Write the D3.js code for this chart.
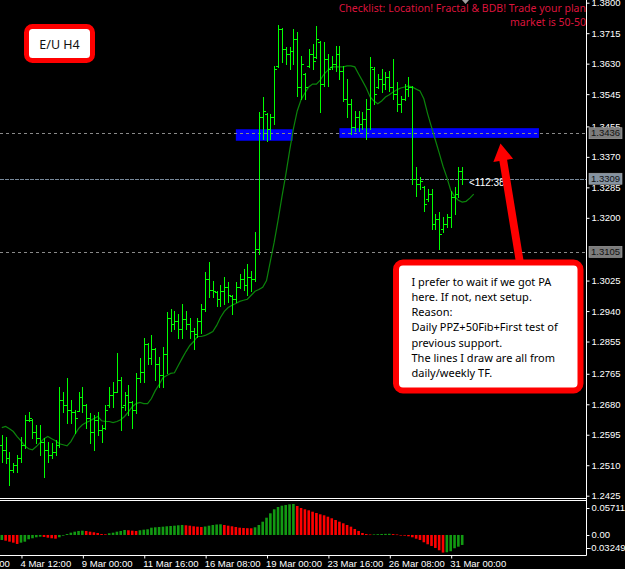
<!DOCTYPE html>
<html>
<head>
<meta charset="utf-8">
<script src="https://cdn.jsdelivr.net/npm/d3@7/dist/d3.min.js"></script>
<style>
body { margin: 0; background: #000; }
svg { display: block; }
.axis text { fill: #fff; font-family: "Liberation Sans", Arial, sans-serif; font-size: 9.5px; }
.axis line { stroke: #fff; }
.axis path { display: none; }
</style>
</head>
<body>
<div id="chart"></div>
<script>
// EURUSD H4 bars
var barOpen = [1.2567,1.2553,1.2531,1.2497,1.2511,1.2531,1.2567,1.2637,1.2637,1.2604,
  1.2587,1.2576,1.2553,1.2539,1.2548,1.2567,1.2693,1.2679,1.2665,1.2659,
  1.2662,1.2699,1.2679,1.2643,1.2604,1.2637,1.2609,1.2615,1.2679,1.2707,
  1.2715,1.2749,1.2679,1.2707,1.2687,1.2665,1.2754,1.2771,1.2847,1.2810,
  1.2833,1.2791,1.2763,1.2819,1.2922,1.2903,1.2911,1.2889,1.2917,1.2903,
  1.2883,1.2875,1.2911,1.2945,1.3028,1.3000,1.2992,1.2973,1.2995,1.3006,
  1.2981,1.2973,1.3006,1.3028,1.3014,1.3034,1.3028,1.3112,1.3481,1.3490,
  1.3448,1.3481,1.3624,1.3727,1.3671,1.3657,1.3666,1.3699,1.3565,1.3601,
  1.3624,1.3657,1.3649,1.3691,1.3573,1.3643,1.3621,1.3629,1.3657,1.3610,
  1.3532,1.3518,1.3453,1.3481,1.3462,1.3476,1.3504,1.3615,1.3565,1.3587,
  1.3573,1.3593,1.3565,1.3545,1.3518,1.3532,1.3559,1.3565,1.3308,1.3294,
  1.3286,1.3252,1.3266,1.3182,1.3196,1.3168,1.3182,1.3202,1.3258,1.3266,
  1.3330]
var barHigh = [1.2595,1.2590,1.2548,1.2517,1.2539,1.2590,1.2651,1.2659,1.2640,1.2623,
  1.2623,1.2587,1.2576,1.2573,1.2581,1.2727,1.2715,1.2754,1.2693,1.2665,
  1.2715,1.2727,1.2682,1.2657,1.2651,1.2659,1.2623,1.2679,1.2727,1.2741,
  1.2824,1.2757,1.2715,1.2735,1.2690,1.2768,1.2810,1.2866,1.2852,1.2872,
  1.2836,1.2813,1.2841,1.2936,1.2947,1.2939,1.2931,1.2959,1.2939,1.2922,
  1.2894,1.2922,1.2959,1.3048,1.3076,1.3023,1.2995,1.3014,1.3034,1.3020,
  1.2984,1.3020,1.3042,1.3056,1.3070,1.3051,1.3160,1.3495,1.3537,1.3493,
  1.3490,1.3624,1.3738,1.3730,1.3677,1.3677,1.3727,1.3719,1.3652,1.3604,
  1.3671,1.3685,1.3736,1.3694,1.3691,1.3657,1.3652,1.3680,1.3680,1.3624,
  1.3587,1.3532,1.3498,1.3498,1.3495,1.3532,1.3649,1.3621,1.3601,1.3615,
  1.3607,1.3610,1.3643,1.3579,1.3540,1.3573,1.3593,1.3568,1.3341,1.3313,
  1.3289,1.3280,1.3280,1.3210,1.3216,1.3202,1.3210,1.3274,1.3286,1.3341,
  1.3341]
var barLow = [1.2520,1.2517,1.2455,1.2492,1.2492,1.2520,1.2559,1.2632,1.2587,1.2573,
  1.2539,1.2478,1.2520,1.2531,1.2539,1.2562,1.2659,1.2629,1.2629,1.2601,
  1.2662,1.2659,1.2615,1.2573,1.2553,1.2595,1.2576,1.2612,1.2673,1.2673,
  1.2713,1.2609,1.2665,1.2651,1.2615,1.2657,1.2743,1.2743,1.2791,1.2791,
  1.2749,1.2729,1.2729,1.2768,1.2883,1.2889,1.2866,1.2866,1.2889,1.2866,
  1.2833,1.2869,1.2880,1.2939,1.2978,1.2978,1.2953,1.2953,1.2959,1.2964,
  1.2931,1.2964,1.3003,1.3000,1.2986,1.2995,1.3025,1.3098,1.3420,1.3414,
  1.3420,1.3462,1.3621,1.3635,1.3629,1.3615,1.3629,1.3540,1.3532,1.3532,
  1.3621,1.3615,1.3646,1.3495,1.3568,1.3568,1.3615,1.3610,1.3587,1.3526,
  1.3481,1.3434,1.3442,1.3442,1.3448,1.3420,1.3448,1.3518,1.3562,1.3551,
  1.3559,1.3554,1.3532,1.3498,1.3495,1.3529,1.3540,1.3294,1.3260,1.3280,
  1.3218,1.3246,1.3168,1.3168,1.3112,1.3160,1.3174,1.3174,1.3210,1.3258,
  1.3294]
var barClose = [1.2553,1.2531,1.2497,1.2511,1.2531,1.2567,1.2637,1.2643,1.2604,1.2587,
  1.2576,1.2553,1.2539,1.2548,1.2567,1.2693,1.2679,1.2665,1.2659,1.2643,
  1.2699,1.2679,1.2643,1.2604,1.2637,1.2609,1.2615,1.2665,1.2707,1.2715,
  1.2749,1.2671,1.2707,1.2687,1.2665,1.2754,1.2771,1.2847,1.2810,1.2833,
  1.2791,1.2763,1.2819,1.2922,1.2903,1.2911,1.2889,1.2917,1.2903,1.2883,
  1.2875,1.2911,1.2945,1.3028,1.3000,1.2995,1.2973,1.2995,1.3006,1.2986,
  1.2973,1.3006,1.3028,1.3014,1.3034,1.3028,1.3112,1.3481,1.3498,1.3448,
  1.3481,1.3615,1.3727,1.3671,1.3657,1.3666,1.3699,1.3565,1.3629,1.3565,
  1.3657,1.3638,1.3699,1.3573,1.3643,1.3615,1.3629,1.3657,1.3610,1.3532,
  1.3518,1.3453,1.3481,1.3462,1.3476,1.3504,1.3621,1.3545,1.3587,1.3573,
  1.3593,1.3565,1.3545,1.3518,1.3532,1.3559,1.3565,1.3308,1.3294,1.3302,
  1.3238,1.3266,1.3182,1.3196,1.3154,1.3182,1.3202,1.3258,1.3266,1.3330,
  1.3309]

// moving average, shifted 3 bars into the future
var maValues = [1.2615,1.2618,1.2612,1.2604,1.2590,1.2578,1.2564,1.2556,1.2553,1.2562,
  1.2573,1.2584,1.2590,1.2584,1.2578,1.2570,1.2567,1.2564,1.2576,1.2595,
  1.2612,1.2623,1.2629,1.2634,1.2640,1.2646,1.2634,1.2632,1.2632,1.2629,
  1.2632,1.2637,1.2646,1.2659,1.2673,1.2682,1.2685,1.2682,1.2682,1.2696,
  1.2718,1.2735,1.2754,1.2760,1.2766,1.2768,1.2788,1.2808,1.2827,1.2844,
  1.2855,1.2869,1.2869,1.2872,1.2877,1.2883,1.2900,1.2922,1.2939,1.2950,
  1.2956,1.2961,1.2967,1.2970,1.2973,1.2984,1.2995,1.3000,1.3006,1.3025,
  1.3079,1.3132,1.3193,1.3258,1.3319,1.3386,1.3448,1.3498,1.3529,1.3548,
  1.3565,1.3573,1.3573,1.3584,1.3601,1.3612,1.3621,1.3621,1.3621,1.3621,
  1.3624,1.3624,1.3621,1.3601,1.3582,1.3562,1.3537,1.3526,1.3518,1.3526,
  1.3537,1.3543,1.3551,1.3557,1.3562,1.3565,1.3568,1.3565,1.3559,1.3554,
  1.3532,1.3490,1.3453,1.3417,1.3381,1.3344,1.3313,1.3277,1.3260,1.3249,
  1.3244,1.3246,1.3255,1.3266]

// awesome oscillator style histogram (lower window)
var aoValues = [-0.00921,-0.01050,-0.01234,-0.01418,-0.01657,-0.01418,-0.01234,-0.00792,-0.00608,-0.00424,
  -0.00313,-0.00368,-0.00497,-0.00608,-0.00681,-0.00424,-0.00129,0.00184,0.00424,0.00608,
  0.00737,0.00792,0.00737,0.00608,0.00497,0.00368,0.00184,0.00129,0.00313,0.00424,
  0.00608,0.00737,0.00921,0.00866,0.00792,0.00737,0.00866,0.00976,0.01050,0.01344,
  0.01418,0.01473,0.01529,0.01602,0.01657,0.01713,0.01786,0.01842,0.01786,0.01713,
  0.01602,0.01529,0.01473,0.01565,0.01713,0.01842,0.01934,0.01971,0.01842,0.01713,
  0.01602,0.01473,0.01344,0.01289,0.01252,0.01234,0.01418,0.01842,0.02449,0.03186,
  0.03996,0.04733,0.05157,0.05396,0.05525,0.05654,0.05711,0.05341,0.04972,0.04733,
  0.04549,0.04291,0.04052,0.03812,0.03628,0.03370,0.03076,0.02762,0.02449,0.02155,
  0.01842,0.01529,0.01105,0.00737,0.00368,0.00184,0.00092,0.00110,0.00147,0.00184,
  0.00203,0.00221,0.00166,0.00092,-0.00055,-0.00129,-0.00239,-0.00424,-0.00681,-0.00921,
  -0.01344,-0.01713,-0.02026,-0.02394,-0.02818,-0.03249,-0.03186,-0.03002,-0.02449,-0.02155,
  -0.01842]

// 1.3110 sits under the 1.3105 tag, so it is left out
var priceTicks = [1.3800, 1.3715, 1.3630, 1.3545, 1.3455, 1.3370, 1.3285, 1.3200,
  1.3025, 1.2940, 1.2855, 1.2765, 1.2680, 1.2595, 1.2510, 1.2425]
var timeTicks = [-11, 5, 21, 37, 53, 69, 85, 101, 117]
var timeLabels = ['2 Mar 00:00', '4 Mar 12:00', '9 Mar 00:00', '11 Mar 16:00', '16 Mar 08:00',
  '19 Mar 00:00', '23 Mar 16:00', '26 Mar 08:00', '31 Mar 00:00']

var levelPrices = [1.3436, 1.3105]
var bidPrice = 1.3309

// blue zones (from bar, to bar, top price, bottom price)
var zoneFrom = [61, 88]
var zoneTo = [75.8, 140]
var zoneTop = [1.3447, 1.3450]
var zoneBottom = [1.3415, 1.3423]

var noteLines = ['I prefer to wait if we got PA', 'here. If not, next setup.', 'Reason:',
  'Daily PPZ+50Fib+First test of', 'previous support.', 'The lines I draw are all from',
  'daily/weekly TF.']
var checklistLines = ['Checklist: Location! Fractal & BDB! Trade your plan', 'market is 50-50']

var width = 625, height = 569
var plotRight = 586.5
var mainBottom = 498.5
var aoTop = 500.5, aoBottom = 555.5

var svg = d3.select('#chart').append('svg')
  .attr('width', width)
  .attr('height', height)
  .style('font-family', '"Liberation Sans", Arial, sans-serif')

svg.append('rect').attr('width', width).attr('height', height).attr('fill', '#000')

var defs = svg.append('defs')
defs.append('clipPath').attr('id', 'clipMain')
  .append('rect').attr('x', 0).attr('y', 0).attr('width', 586).attr('height', 498)
defs.append('clipPath').attr('id', 'clipAO')
  .append('rect').attr('x', 0).attr('y', 501).attr('width', 586).attr('height', 54)

var x = d3.scaleLinear().domain([0, barOpen.length - 1]).range([1.8, 462.2])
var y = d3.scaleLinear().domain([1.2425, 1.38]).range([495.7, 2.7])
var yAO = d3.scaleLinear().domain([d3.min(aoValues), d3.max(aoValues)]).range([552.6, 504])

function px(v) { return Math.round(v) + 0.5 }

var main = svg.append('g').attr('clip-path', 'url(#clipMain)')

// zones first, everything else is painted over them
main.selectAll('rect.zone')
  .data(zoneFrom)
  .enter().append('rect')
  .attr('class', 'zone')
  .attr('x', (d, k) => x(d))
  .attr('y', (d, k) => y(zoneTop[k]))
  .attr('width', (d, k) => x(zoneTo[k]) - x(d))
  .attr('height', (d, k) => y(zoneBottom[k]) - y(zoneTop[k]))
  .attr('fill', '#0000ff')

main.selectAll('line.level')
  .data(levelPrices)
  .enter().append('line')
  .attr('class', 'level')
  .attr('x1', 0).attr('x2', plotRight)
  .attr('y1', d => px(y(d))).attr('y2', d => px(y(d)))
  .attr('stroke', '#8a8a8a')
  .attr('stroke-dasharray', '3,3')
  .attr('shape-rendering', 'crispEdges')

main.append('line')
  .attr('x1', 0).attr('x2', plotRight)
  .attr('y1', px(y(bidPrice))).attr('y2', px(y(bidPrice)))
  .attr('stroke', '#778899')
  .attr('stroke-dasharray', '4,1')
  .attr('shape-rendering', 'crispEdges')

// moving average
var maLine = d3.line()
  .x((d, i) => x(i))
  .y(d => y(d))

main.append('path')
  .datum(maValues)
  .attr('d', maLine)
  .attr('fill', 'none')
  .attr('stroke', '#0b840b')
  .attr('stroke-width', 1.2)

// OHLC bars
main.append('g')
  .attr('shape-rendering', 'crispEdges')
  .selectAll('path')
  .data(barOpen)
  .enter().append('path')
  .attr('d', (o, i) => {
    var xc = px(x(i))
    return 'M' + xc + ',' + Math.round(y(barHigh[i])) + 'V' + (Math.round(y(barLow[i])) + 1) +
      'M' + (xc - 2.5) + ',' + px(y(o)) + 'H' + xc +
      'M' + xc + ',' + px(y(barClose[i])) + 'H' + (xc + 2.5)
  })
  .attr('fill', 'none')
  .attr('stroke', '#00ff00')
  .attr('stroke-width', 1)

// lower window histogram
var ao = svg.append('g').attr('clip-path', 'url(#clipAO)')
ao.selectAll('rect')
  .data(aoValues)
  .enter().append('rect')
  .attr('x', (d, i) => x(i) - 1.3)
  .attr('width', 2.6)
  .attr('y', d => Math.min(yAO(d), yAO(0)))
  .attr('height', d => Math.max(0.6, Math.abs(yAO(d) - yAO(0))))
  .attr('fill', (d, i) => (i === 0 || d >= aoValues[i - 1]) ? '#129a12' : '#ff0000')

// frames
var frame = svg.append('g').attr('stroke', '#fff').attr('stroke-width', 1)
frame.append('line').attr('x1', 0).attr('x2', plotRight).attr('y1', mainBottom).attr('y2', mainBottom)
frame.append('line').attr('x1', 0).attr('x2', plotRight).attr('y1', aoTop).attr('y2', aoTop)
frame.append('line').attr('x1', 0).attr('x2', plotRight).attr('y1', aoBottom).attr('y2', aoBottom)
frame.append('line').attr('x1', plotRight).attr('x2', plotRight).attr('y1', 0).attr('y2', aoBottom)

// price axis
var priceAxis = d3.axisRight(y)
  .tickValues(priceTicks)
  .tickFormat(d3.format('.4f'))
  .tickSize(3)
  .tickPadding(2)

svg.append('g')
  .attr('class', 'axis')
  .attr('transform', 'translate(' + plotRight + ',0)')
  .call(priceAxis)

// indicator axis labels, kept inside the window
var aoTicks = [d3.max(aoValues), 0, d3.min(aoValues)]
var aoAxis = svg.append('g').attr('class', 'axis')
aoTicks.forEach(function(v) {
  var ty = Math.max(508, Math.min(548, yAO(v)))
  aoAxis.append('line')
    .attr('x1', plotRight).attr('x2', plotRight + 3)
    .attr('y1', px(ty)).attr('y2', px(ty))
  aoAxis.append('text')
    .attr('x', v < 0 ? plotRight + 1.5 : plotRight + 5)
    .attr('y', ty)
    .attr('dy', '0.32em')
    .text(v === 0 ? '0.00' : d3.format('.5f')(v).replace('−', '-'))
})

// time axis
var timeAxis = d3.axisBottom(x)
  .tickValues(timeTicks)
  .tickFormat((d, i) => timeLabels[i])
  .tickSize(3)
  .tickPadding(2)

var tg = svg.append('g')
  .attr('class', 'axis')
  .attr('transform', 'translate(0,' + aoBottom + ')')
  .call(timeAxis)
tg.selectAll('text').attr('text-anchor', 'start').attr('dx', -1)
tg.selectAll('.tick line').attr('transform', 'translate(0.5,0)')

// price labels on the axis for the horizontal lines
var tags = levelPrices.concat([bidPrice])
var tag = svg.append('g')
tags.forEach(function(p, k) {
  var ty = y(p)
  tag.append('rect')
    .attr('x', 589).attr('y', ty - 5.5)
    .attr('width', 33).attr('height', 11)
    .attr('fill', k < levelPrices.length ? '#7c7c7c' : '#8593a1')
    .attr('stroke', '#a8a8a8')
    .attr('stroke-width', 0.6)
  tag.append('text')
    .attr('x', 605.5).attr('y', ty)
    .attr('dy', '0.34em')
    .attr('text-anchor', 'middle')
    .attr('font-size', '9.5px')
    .attr('fill', '#111')
    .text(d3.format('.4f')(p))
})

// countdown text next to the last bar
svg.append('text')
  .attr('x', 469).attr('y', 186)
  .attr('font-size', '10px')
  .attr('fill', '#fff')
  .text('<112:38')

// little shift marker at the top
svg.append('path')
  .attr('d', 'M462,0 L469,0 L465.5,4 Z')
  .attr('fill', '#a0a0a0')

// checklist text top right
var check = svg.append('g').attr('clip-path', 'url(#clipMain)')
check.selectAll('text')
  .data(checklistLines)
  .enter().append('text')
  .attr('x', 586)
  .attr('y', (d, i) => 12 + i * 14.4)
  .attr('text-anchor', 'end')
  .attr('font-family', '"Noto Sans", sans-serif')
  .attr('font-size', '10.5px')
  .attr('fill', '#dc143c')
  .text(d => d)

// symbol label
svg.append('rect')
  .attr('x', 26.5).attr('y', 26.5)
  .attr('width', 66).attr('height', 34)
  .attr('rx', 6)
  .attr('fill', '#fff')
  .attr('stroke', '#ff0000')
  .attr('stroke-width', 5)
svg.append('text')
  .attr('x', 59.5).attr('y', 48.5)
  .attr('text-anchor', 'middle')
  .attr('font-family', '"Noto Sans", sans-serif')
  .attr('font-size', '12.5px')
  .attr('fill', '#111')
  .text('E/U H4')

// red arrow pointing at the zone
var tail = [520, 263], tip = [500.5, 143.5]
var dx = tip[0] - tail[0], dy = tip[1] - tail[1]
var len = Math.sqrt(dx * dx + dy * dy)
var ux = dx / len, uy = dy / len
var nx = -uy, ny = ux
var shaftW = 3.9, headW = 10, headL = 17
var bx = tip[0] - ux * headL, by = tip[1] - uy * headL
var arrowPts = [
  [tail[0] + nx * shaftW, tail[1] + ny * shaftW],
  [bx + nx * shaftW, by + ny * shaftW],
  [bx + nx * headW, by + ny * headW],
  tip,
  [bx - nx * headW, by - ny * headW],
  [bx - nx * shaftW, by - ny * shaftW],
  [tail[0] - nx * shaftW, tail[1] - ny * shaftW]
]
svg.append('path')
  .attr('d', 'M' + arrowPts.map(p => p[0] + ',' + p[1]).join('L') + 'Z')
  .attr('fill', '#ff0000')

// note box
svg.append('rect')
  .attr('x', 396).attr('y', 262.5)
  .attr('width', 184.5).attr('height', 128)
  .attr('rx', 7)
  .attr('fill', '#fff')
  .attr('stroke', '#ff0000')
  .attr('stroke-width', 6)

svg.append('g')
  .selectAll('text')
  .data(noteLines)
  .enter().append('text')
  .attr('x', 411.5)
  .attr('y', (d, i) => 285.5 + i * 15.27)
  .attr('font-family', '"Noto Sans", sans-serif')
  .attr('font-size', '11px')
  .attr('fill', '#000')
  .text(d => d)
</script>
</body>
</html>
